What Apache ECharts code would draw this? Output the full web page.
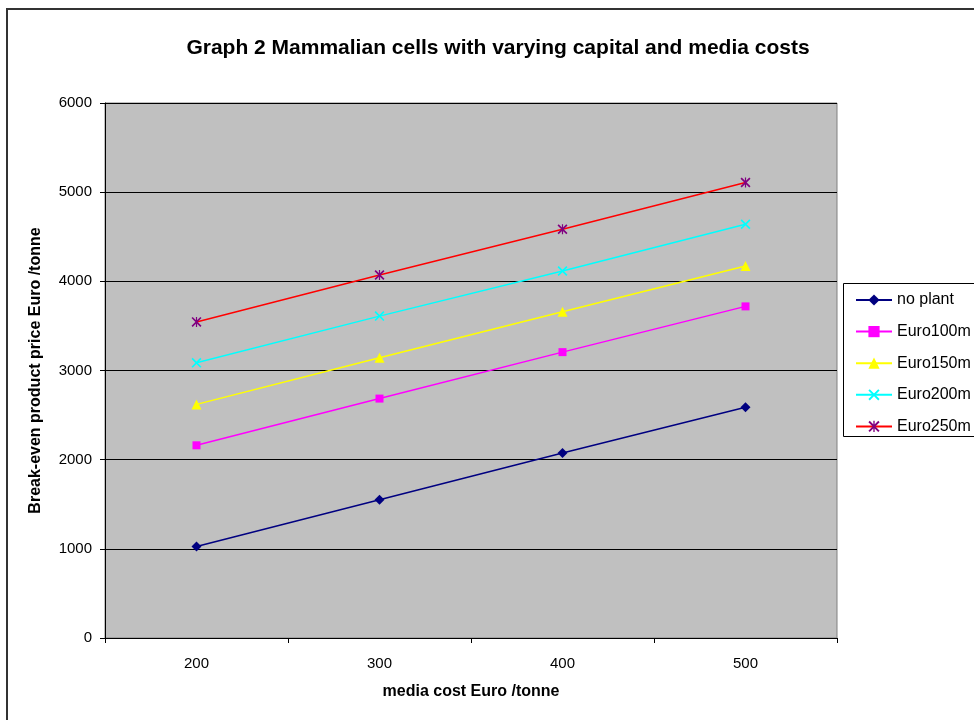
<!DOCTYPE html>
<html>
<head>
<meta charset="utf-8">
<script src="https://cdn.jsdelivr.net/npm/echarts@6/dist/echarts.min.js"></script>
<style>
  html, body { margin: 0; padding: 0; background: #ffffff; }
  #chart { width: 974px; height: 720px; }
</style>
</head>
<body>
<div id="chart"></div>
<script>
// Media cost categories (Euro / tonne)
var mediaCosts = ['200', '300', '400', '500'];

// Break-even product price (Euro / tonne) for each capital cost scenario
var seriesNames = ['no plant', 'Euro100m', 'Euro150m', 'Euro200m', 'Euro250m'];
var noPlant  = [1026, 1551, 2075, 2588];
var euro100m = [2161, 2685, 3206, 3719];
var euro150m = [2620, 3142, 3659, 4172];
var euro200m = [3086, 3610, 4116, 4640];
var euro250m = [3545, 4071, 4584, 5109];

var FONT = 'Liberation Sans, Arial, Helvetica, sans-serif';

// Marker shapes: a cross and an asterisk built from thin bars
var crossPath = 'path://M0,1.2L1.2,0L10,8.8L8.8,10Z M8.8,0L10,1.2L1.2,10L0,8.8Z';
var starPath = 'path://M0,1.2L1.2,0L10,8.8L8.8,10Z M8.8,0L10,1.2L1.2,10L0,8.8Z M4.4,0L5.6,0L5.6,10L4.4,10Z';

function lineSeries(name, data, lineColor, markColor, symbol, size) {
  return {
    name: name,
    type: 'line',
    data: data,
    symbol: symbol,
    symbolSize: size,
    showAllSymbol: true,
    lineStyle: { color: lineColor, width: 1.5 },
    itemStyle: { color: markColor, borderWidth: 0 },
    emphasis: { disabled: true }
  };
}

var chart = echarts.init(document.getElementById('chart'), null, { renderer: 'canvas' });

chart.setOption({
  animation: false,
  backgroundColor: '#ffffff',
  title: {
    text: 'Graph 2 Mammalian cells with varying capital and media costs',
    left: 493,
    top: 33,
    textAlign: 'center',
    textStyle: { fontFamily: FONT, fontSize: 21, fontWeight: 'bold', color: '#000000' }
  },
  grid: {
    left: 105, right: 137, top: 103, bottom: 82,
    show: true,
    backgroundColor: '#c0c0c0',
    borderColor: '#808080',
    borderWidth: 1
  },
  legend: {
    orient: 'vertical',
    left: 855,
    top: 292,
    padding: 0,
    itemWidth: 36,
    itemHeight: 14,
    itemGap: 15.6,
    selectedMode: false,
    data: seriesNames,
    textStyle: { fontFamily: FONT, fontSize: 16, color: '#000000' }
  },
  xAxis: {
    type: 'category',
    data: mediaCosts,
    boundaryGap: true,
    name: 'media cost Euro /tonne',
    nameLocation: 'middle',
    nameGap: 46,
    nameTextStyle: { fontFamily: FONT, fontSize: 16, fontWeight: 'bold', color: '#000000' },
    axisLine: { lineStyle: { color: '#000000', width: 1 } },
    axisTick: { show: true, length: 5, alignWithLabel: false, lineStyle: { color: '#000000' } },
    axisLabel: { margin: 18, fontFamily: FONT, fontSize: 15, color: '#000000' },
    splitLine: { show: false }
  },
  yAxis: {
    type: 'value',
    min: 0,
    max: 6000,
    interval: 1000,
    name: 'Break-even product price Euro /tonne',
    nameLocation: 'middle',
    nameGap: 61,
    nameTextStyle: { fontFamily: FONT, fontSize: 16, fontWeight: 'bold', color: '#000000' },
    axisLine: { show: true, lineStyle: { color: '#000000', width: 1 } },
    axisTick: { show: true, length: 5, lineStyle: { color: '#000000' } },
    axisLabel: {
      margin: 13, fontFamily: FONT, fontSize: 15, color: '#000000',
      formatter: function (v) { return String(v); }
    },
    splitLine: { show: true, lineStyle: { color: '#000000', width: 1 } }
  },
  graphic: [
    {
      type: 'rect',
      z: -10,
      silent: true,
      shape: { x: 7, y: 9, width: 1000, height: 800 },
      style: { fill: 'none', stroke: '#333333', lineWidth: 2 }
    },
    {
      type: 'rect',
      z: -5,
      silent: true,
      shape: { x: 843.5, y: 283.5, width: 200, height: 153 },
      style: { fill: '#ffffff', stroke: '#000000', lineWidth: 1 }
    }
  ],
  series: [
    lineSeries(seriesNames[0], noPlant,  '#000080', '#000080', 'diamond', 10),
    lineSeries(seriesNames[1], euro100m, '#ff00ff', '#ff00ff', 'rect', 8),
    lineSeries(seriesNames[2], euro150m, '#ffff00', '#ffff00', 'triangle', 10),
    lineSeries(seriesNames[3], euro200m, '#00ffff', '#00ffff', crossPath, 10),
    lineSeries(seriesNames[4], euro250m, '#ff0000', '#800080', starPath, 10)
  ]
});
</script>
</body>
</html>
